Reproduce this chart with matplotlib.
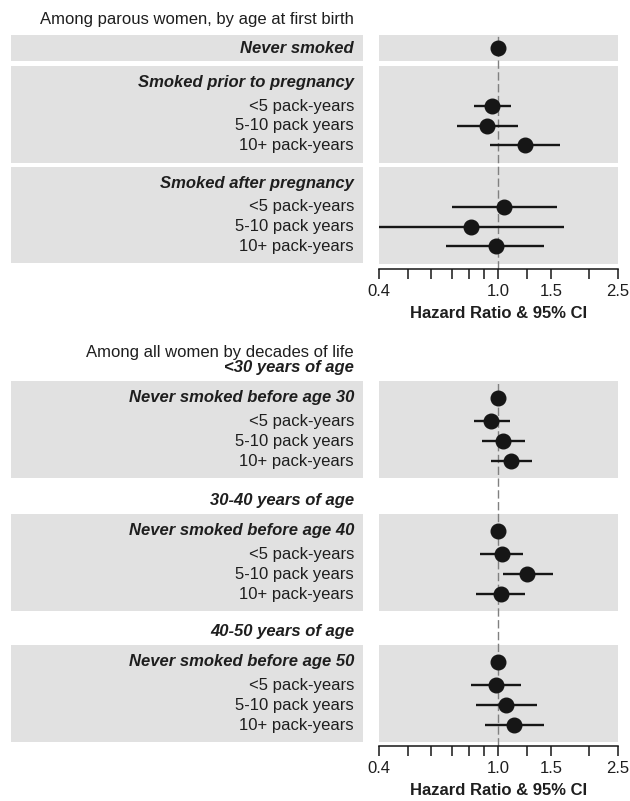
import matplotlib
matplotlib.use("Agg")
import matplotlib.pyplot as plt
from matplotlib.ticker import FixedLocator, FixedFormatter, NullLocator

plt.rcParams["font.family"] = ["Liberation Sans", "DejaVu Sans"]

# ---- data (hazard ratio, lower and upper 95% CI) ----
pack_labels = ["<5 pack-years", "5-10 pack years", "10+ pack-years"]

parous_headers = ["Never smoked", "Smoked prior to pregnancy", "Smoked after pregnancy"]
prior_hr = [0.95, 0.92, 1.23]
prior_lo = [0.83, 0.73, 0.94]
prior_hi = [1.10, 1.16, 1.60]
after_hr = [1.045, 0.81, 0.98]
after_lo = [0.70, 0.38, 0.67]
after_hi = [1.57, 1.65, 1.42]

age_headers = ["<30 years of age", "30-40 years of age", "40-50 years of age"]
never_labels = ["Never smoked before age 30", "Never smoked before age 40",
                "Never smoked before age 50"]
age30_hr = [0.945, 1.04, 1.105]
age30_lo = [0.83, 0.88, 0.945]
age30_hi = [1.09, 1.23, 1.29]
age40_hr = [1.03, 1.25, 1.02]
age40_lo = [0.87, 1.035, 0.845]
age40_hi = [1.21, 1.52, 1.23]
age50_hr = [0.98, 1.065, 1.13]
age50_lo = [0.81, 0.845, 0.905]
age50_hi = [1.19, 1.35, 1.42]

reference_hr = 1.0
tick_values = [0.4, 0.5, 0.6, 0.7, 0.8, 0.9, 1.0, 1.25, 1.5, 2.0, 2.5]
tick_labels = ["0.4", "", "", "", "", "", "1.0", "", "1.5", "", "2.5"]

# ---- style ----
W, H = 630, 801
BOX = "#e1e1e1"
INK = "#161616"
TXT = "#1e1e1e"
FS = 12
LABEL_X = 354          # right edge of the row labels (px)


def px_axes(fig, x0, y0, x1, y1):
    return fig.add_axes([x0 / W, 1 - y1 / H, (x1 - x0) / W, (y1 - y0) / H])


def make_panel(fig, top, axis_y):
    ax_l = px_axes(fig, 11, top, 363, axis_y)
    ax_l.set_xlim(11, 363)
    ax_l.set_ylim(axis_y, top)
    ax_l.axis("off")

    ax_r = px_axes(fig, 378.5, top, 618, axis_y)
    ax_r.set_xscale("log")
    ax_r.set_xlim(0.4, 2.5)
    ax_r.set_ylim(axis_y, top)
    ax_r.patch.set_visible(False)
    for s in ("left", "right", "top"):
        ax_r.spines[s].set_visible(False)
    ax_r.spines["bottom"].set_linewidth(1.1)
    ax_r.spines["bottom"].set_color(INK)
    ax_r.yaxis.set_major_locator(NullLocator())
    ax_r.xaxis.set_major_locator(FixedLocator(tick_values))
    ax_r.xaxis.set_major_formatter(FixedFormatter(tick_labels))
    ax_r.xaxis.set_minor_locator(NullLocator())
    ax_r.tick_params(axis="x", direction="out", length=7, width=1.1, color=INK,
                     labelsize=FS, labelcolor=TXT, pad=4)
    ax_r.set_xlabel("Hazard Ratio & 95% CI", fontsize=FS, fontweight="bold",
                    color=TXT, labelpad=5)
    ax_r.axvline(reference_hr, color="#808080", lw=1.0, ls=(0, (6, 2.5)), zorder=1)
    return ax_l, ax_r


def box(ax_l, ax_r, y0, y1):
    ax_l.axhspan(y0, y1, color=BOX, lw=0, zorder=0)
    ax_r.axhspan(y0, y1, color=BOX, lw=0, zorder=0)


def row(ax_l, ax_r, y, label, hr=None, lo=None, hi=None, header=False):
    kw = dict(fontweight="bold", fontstyle="italic") if header else {}
    ax_l.text(LABEL_X, y, label, ha="right", va="center", fontsize=FS, color=TXT, **kw)
    if lo is not None:
        ax_r.plot([lo, hi], [y, y], color=INK, lw=1.7, solid_capstyle="butt", zorder=2)
    if hr is not None:
        ax_r.plot([hr], [y], "o", ms=10.5, color=INK, mec=INK, zorder=3)


def group(ax_l, ax_r, top, header, header_hr, hr, lo, hi, row_gap):
    box(ax_l, ax_r, top, top + 96.5)
    row(ax_l, ax_r, top + 16.5, header, header_hr, header=True)
    for i, lab in enumerate(pack_labels):
        row(ax_l, ax_r, top + 40 + row_gap * i, lab, hr[i], lo[i], hi[i])


fig = plt.figure(figsize=(W / 100, H / 100), dpi=100)

# ---- panel 1: parous women ----
ax_l, ax_r = make_panel(fig, 35, 268.5)
ax_l.text(LABEL_X, 19, "Among parous women, by age at first birth", ha="right",
          va="center", fontsize=FS, color=TXT)
box(ax_l, ax_r, 35, 61)
row(ax_l, ax_r, 48, parous_headers[0], reference_hr, header=True)
group(ax_l, ax_r, 66, parous_headers[1], None, prior_hr, prior_lo, prior_hi, 19.7)
group(ax_l, ax_r, 167, parous_headers[2], None, after_hr, after_lo, after_hi, 19.7)

# ---- panel 2: all women by decades of life ----
ax_l, ax_r = make_panel(fig, 381, 746)
ax_l.text(LABEL_X, 352, "Among all women by decades of life", ha="right",
          va="center", fontsize=FS, color=TXT)
decades = [(age30_hr, age30_lo, age30_hi), (age40_hr, age40_lo, age40_hi),
           (age50_hr, age50_lo, age50_hi)]
for k, top in enumerate([381, 514, 645]):
    ax_l.text(LABEL_X, top - 13.5, age_headers[k], ha="right", va="center",
              fontsize=FS, color=TXT, fontweight="bold", fontstyle="italic")
    hr, lo, hi = decades[k]
    group(ax_l, ax_r, top, never_labels[k], reference_hr, hr, lo, hi, 20)

fig.savefig("out.png", dpi=100)
